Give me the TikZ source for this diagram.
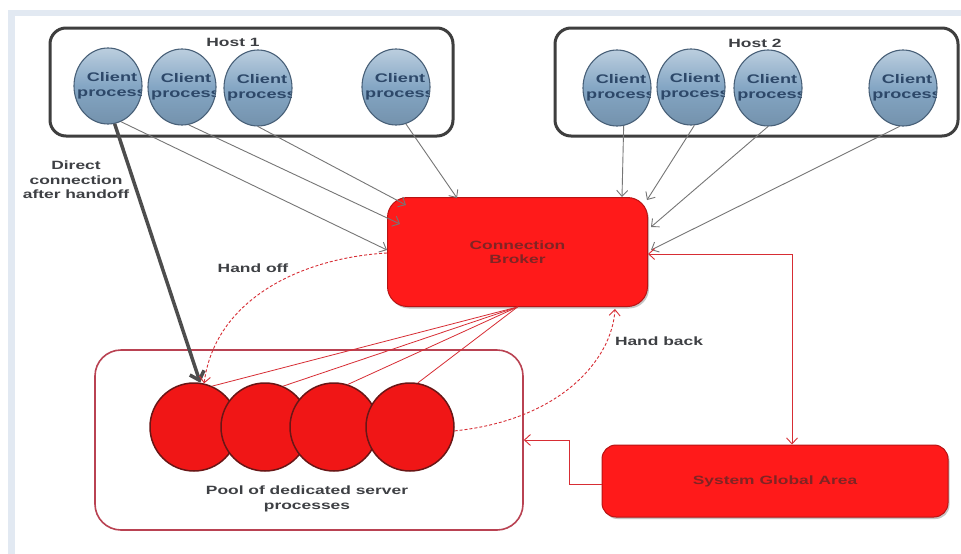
\documentclass[tikz,border=0pt]{standalone}
\usepackage{fontspec}
\newfontfamily\lbl{Liberation Sans}[FakeStretch=1.45]
\usetikzlibrary{arrows.meta,calc,shapes.geometric,shadows}

\definecolor{framebl}{RGB}{226,233,242}
\definecolor{hostline}{RGB}{62,62,62}
\definecolor{cliball}{RGB}{132,166,196}
\definecolor{cliedge}{RGB}{72,96,120}
\definecolor{clitext}{RGB}{45,72,105}
\definecolor{srvred}{RGB}{240,22,22}
\definecolor{srvedge}{RGB}{105,22,22}
\definecolor{boxred}{RGB}{255,26,26}
\definecolor{boxtext}{RGB}{128,36,36}
\definecolor{linkred}{RGB}{215,45,52}
\definecolor{poolline}{RGB}{185,66,82}
\definecolor{arrowgray}{RGB}{118,118,118}
\definecolor{lbltext}{RGB}{62,64,68}

\tikzset{
  lblfont/.style={font=\lbl\bfseries\fontsize{12}{14.5}\selectfont},
  label text/.style={lblfont, text=lbltext, align=center, inner sep=0},
  hostbox/.style={draw=hostline, line width=3pt, rounded corners=16pt, inner sep=0},
  client/.style={ellipse, minimum width=68pt, minimum height=76pt, inner sep=0,
    draw=cliedge, line width=1.1pt,
    top color=cliball!55!white, bottom color=cliball!88!black, middle color=cliball,
    path picture={\node[lblfont, text=clitext, align=center, inner sep=0,
      font=\lbl\bfseries\fontsize{12.5}{15}\selectfont]
      at ([xshift=4pt]path picture bounding box.center) {Client\\process};}},
  server/.style={circle, minimum size=88pt, inner sep=0, draw=srvedge,
    line width=1.5pt, fill=srvred},
  redbox/.style={rectangle, inner sep=0, fill=boxred, draw=boxred!72!black,
    line width=1pt, lblfont, text=boxtext, align=center,
    drop shadow={shadow xshift=1.5pt, shadow yshift=-2pt, fill=black!45}},
  poolbox/.style={rectangle, draw=poolline, line width=1.6pt, rounded corners=26pt, inner sep=0},
  garrow/.style={draw=arrowgray, line width=0.9pt, -{Straight Barb[length=6pt,width=11pt]}},
  direct/.style={draw=hostline!92, line width=3.5pt, -{Straight Barb[length=8pt,width=15pt]}},
  handarrow/.style={draw=linkred, line width=0.9pt, dash pattern=on 3pt off 2pt,
    -{Straight Barb[length=6pt,width=11pt]}},
  redlink/.style={draw=linkred, line width=0.8pt},
  redarrow/.style={draw=linkred, line width=0.9pt},
  >={Straight Barb[length=6pt,width=11pt]}
}

\begin{document}
\begin{tikzpicture}[x=1pt,y=-1pt]
\useasboundingbox (0,0) rectangle (961,554);
\fill[white] (0,0) rectangle (961,554);
% window frame strips
\fill[framebl] (8,10) rectangle (961,16);
\fill[framebl] (8,10) rectangle (15,554);

% hosts
\node[hostbox, minimum width=403pt, minimum height=108pt] (host1) at (251.5,82) {};
\node[hostbox, minimum width=403pt, minimum height=108pt] (host2) at (756.5,82) {};
\node[label text] (h1lbl) at (233,42) {Host 1};
\node[label text] (h2lbl) at (755,43) {Host 2};

\node[client] (c11) at (108,86) {};
\node[client] (c12) at (182,87) {};
\node[client] (c13) at (258,88) {};
\node[client] (c14) at (396,87) {};
\node[client] (c21) at (617,88) {};
\node[client] (c22) at (691,87) {};
\node[client] (c23) at (768,88) {};
\node[client] (c24) at (903,88) {};

% broker, pool and SGA
\node[redbox, minimum width=260pt, minimum height=109pt, rounded corners=20pt] (broker) at (517.5,252) {Connection\\Broker};
\node[poolbox, minimum width=428pt, minimum height=180pt] (pool) at (309,440) {};
\node[server] (p1) at (194,427) {};
\node[server] (p2) at (265,427) {};
\node[server] (p3) at (334,427) {};
\node[server] (p4) at (410,427) {};
\node[label text] (poollbl) at (307,499) {Pool of dedicated server\\processes};
\node[redbox, minimum width=346pt, minimum height=72pt, rounded corners=14pt] (sga) at (775,481) {System Global Area};

% labels
\node[label text] (directlbl) at (76,180) {Direct\\connection\\after handoff};
\node[label text] (offlbl) at (253,268) {Hand off};
\node[label text] (backlbl) at (659,341) {Hand back};

% broker to dedicated servers
\draw[redlink] (broker.south) -- (p1.66);
\draw[redlink] (broker.south) -- (p2.66);
\draw[redlink] (broker.south) -- (p3.72);
\draw[redlink] (broker.south) -- (p4.80);

% clients to broker
\draw[garrow] (c11.-70) -- ($(broker.west)+(0,-2)$);
\draw[garrow] (c12.-80) -- ($(broker.north west)+(13,27)$);
\draw[garrow] (c13.-90) -- ($(broker.north west)+(19,8)$);
\draw[garrow] (c14.-75) -- ($(broker.north west)+(70,1)$);
\draw[garrow] (c21.-80) -- ($(broker.north east)+(-26,0)$);
\draw[garrow] (c22.-85) -- ($(broker.north east)+(-1,3)$);
\draw[garrow] (c23.-90) -- ($(broker.north east)+(3,30)$);
\draw[garrow] (c24.-95) -- ($(broker.east)+(3,-2)$);

% direct connection after handoff
\draw[direct] (c11.-80) -- (p1.82);

% hand off / hand back
\draw[handarrow] ($(broker.west)+(0,1)$) .. controls (300,258) and (215,300) .. (p1.77);
\draw[handarrow] (p4.-5) .. controls (560,420) and (612,360) .. ($(broker.south east)+(-33,2)$);

% SGA links
\draw[redarrow,<->] ($(broker.east)+(0,2)$) -| ($(sga.north)+(17,0)$);
\draw[redarrow,->] ($(sga.west)+(0,3)$) -- ++(-32,0) |- (pool.east);
\end{tikzpicture}
\end{document}
